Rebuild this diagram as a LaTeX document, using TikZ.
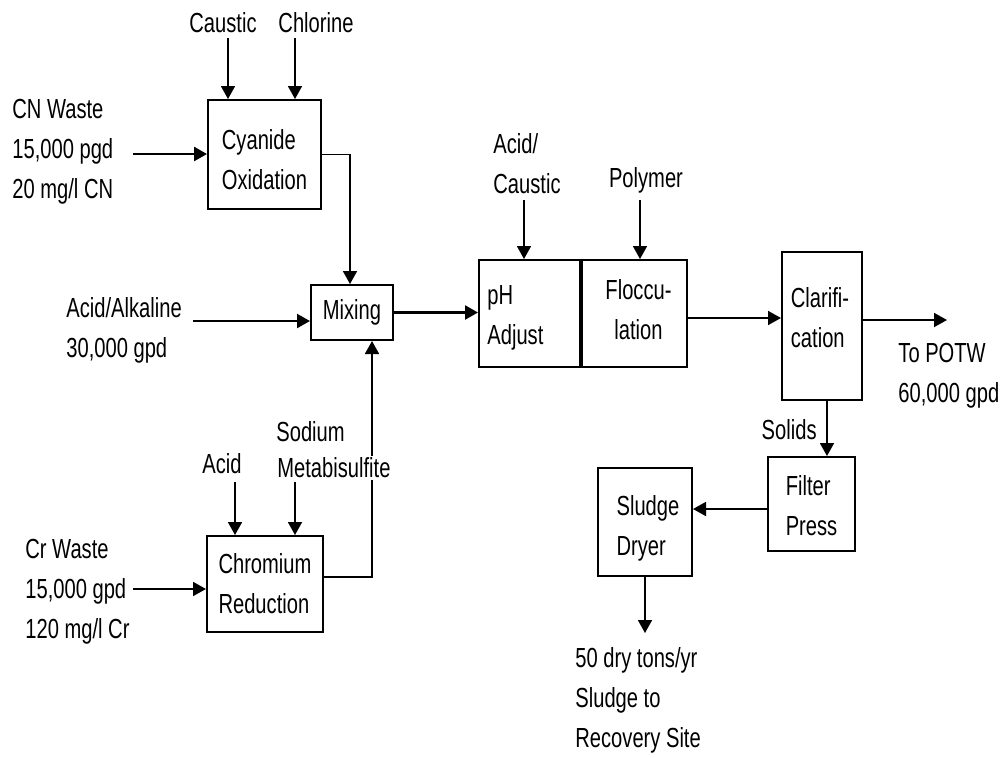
\documentclass[tikz,border=0pt]{standalone}
\usepackage{fontspec}
\setmainfont{Liberation Sans}[FakeStretch=0.73]
\usetikzlibrary{arrows.meta,positioning}
\tikzset{
    procnode/.style={
        rectangle,
        draw,
        line width=1pt,
        inner sep=0pt
    },
    proctext/.style={
        align=left,
        inner sep=0pt
    },
    flowlabel/.style={
        align=left,
        inner sep=0pt
    },
    flow/.style={
        -{Triangle[width=7pt,length=6.5pt]},
        line width=0.9pt
    }
}

\begin{document}
\begin{tikzpicture}[x=0.5pt,y=-0.5pt,font=\fontsize{13.8}{20}\selectfont]
    \useasboundingbox (0,0) rectangle (1008,757);

    % Process units
    \node[procnode, minimum width=56.5pt, minimum height=54.5pt] (cyan) at (264.5,154.5) {};
    \node[proctext] (cyantxt) at ([yshift=-2.5pt]cyan.center) {Cyanide\\Oxidation};
    \node[procnode, minimum width=41pt, minimum height=27.5pt] (mix) at (352,312.5) {};
    \node[proctext] (mixtxt) at (mix.center) {Mixing};
    \node[procnode, minimum width=58pt, minimum height=48pt] (chrom) at (265,584) {};
    \node[proctext] (chromtxt) at (chrom.center) {Chromium\\Reduction};
    \node[procnode, minimum width=50.5pt, minimum height=53.5pt] (ph) at (529.5,313.5) {};
    \node[proctext, anchor=west] (phtxt) at ([xshift=4.5pt,yshift=-2pt]ph.west) {pH\\Adjust};
    \node[procnode, minimum width=53.5pt, minimum height=53.5pt] (floc) at (633.5,313.5) {};
    \node[proctext, align=center] (floctxt) at ([xshift=2.5pt,yshift=2pt]floc.center) {Floccu-\\lation};
    \draw[line width=2pt] (ph.north east) -- (ph.south east);
    \node[procnode, minimum width=40pt, minimum height=74pt] (clar) at (822,326) {};
    \node[proctext] (clartxt) at ([xshift=-1pt,yshift=4pt]clar.center) {Clarifi-\\cation};
    \node[procnode, minimum width=43.5pt, minimum height=47pt] (fp) at (811.5,504) {};
    \node[proctext] (fptxt) at ([yshift=-1pt]fp.center) {Filter\\Press};
    \node[procnode, minimum width=47pt, minimum height=54pt] (dryer) at (645,522) {};
    \node[proctext] (dryertxt) at ([xshift=1.5pt,yshift=-3pt]dryer.center) {Sludge\\Dryer};

    % Feeds and chemicals
    \node[flowlabel] (caustic) at (223,23) {Caustic};
    \node[flowlabel] (chlorine) at (316,23) {Chlorine};
    \node[flowlabel, anchor=west] (cnwaste) at (12,152) {CN Waste\\15,000 pgd\\20 mg/l CN};
    \node[flowlabel, anchor=west] (acidalk) at (66,330) {Acid/Alkaline\\30,000 gpd};
    \node[flowlabel] (acid) at (222,464) {Acid};
    \node[flowlabel, anchor=west] (sodium) at (276,432) {Sodium};
    \node[flowlabel, anchor=west] (crwaste) at (25,592) {Cr Waste\\15,000 gpd\\120 mg/l Cr};
    \node[flowlabel, anchor=west] (acidcaus) at (493,164) {Acid/\\Caustic};
    \node[flowlabel] (polymer) at (646,180) {Polymer};
    \node[flowlabel, anchor=west] (potwlbl) at (898,376) {To POTW\\60,000 gpd};
    \node[flowlabel, anchor=east] (solids) at (817,430) {Solids};
    \node[flowlabel, anchor=west] (sludgelbl) at (575,700) {50 dry tons/yr\\Sludge to\\Recovery Site};

    % Free ends of the connectors
    \coordinate (causin) at (228,38);
    \coordinate (chlorin) at (295,38);
    \coordinate (cnin) at (133,154);
    \coordinate (aain) at (193,321);
    \coordinate (acidin) at (235,482);
    \coordinate (sodin) at (295,482);
    \coordinate (crin) at (133,589);
    \coordinate (phin) at (524,200);
    \coordinate (polyin) at (640,200);
    \coordinate (potw) at (947,320);
    \coordinate (dryout) at (645,633);

    % Cyanide branch
    \draw[flow] (causin) -- (causin |- cyan.north);
    \draw[flow] (chlorin) -- (chlorin |- cyan.north);
    \draw[flow, line width=1.3pt] (cnin) -- (cnin -| cyan.west);
    \draw[flow] (cyan.east) -| ([xshift=-1pt]mix.north);

    % Mixing
    \draw[flow, line width=1.1pt] (aain) -- (aain -| mix.west);
    \draw[flow, line width=1.2pt] (mix.east) -- (mix.east -| ph.west);

    % Chromium branch
    \draw[flow] (acidin) -- (acidin |- chrom.north);
    \draw[flow] (sodin) -- (sodin |- chrom.north);
    \draw[flow] (crin) -- (crin -| chrom.west);
    \draw[flow] ([yshift=3.5pt]chrom.east) -| ([xshift=10pt]mix.south);
    % label over the riser
    \node[flowlabel, anchor=west, fill=white, inner sep=1pt] (metabi) at (275,468) {Metabisulfite};

    % Treatment train
    \draw[flow] (phin) -- (phin |- ph.north);
    \draw[flow] (polyin) -- (polyin |- floc.north);
    \draw[flow] ([yshift=-2.25pt]floc.east) -- ([yshift=-2.25pt]floc.east -| clar.west);
    \draw[flow] (potw -| clar.east) -- (potw);

    % Solids handling
    \draw[flow] ([xshift=2.5pt]clar.south) -- ([xshift=2.5pt]clar.south |- fp.north);
    \draw[flow] ([yshift=-2.5pt]fp.west) -- ([yshift=-2.5pt]fp.west -| dryer.east);
    \draw[flow] (dryer.south) -- (dryout);
\end{tikzpicture}
\end{document}
